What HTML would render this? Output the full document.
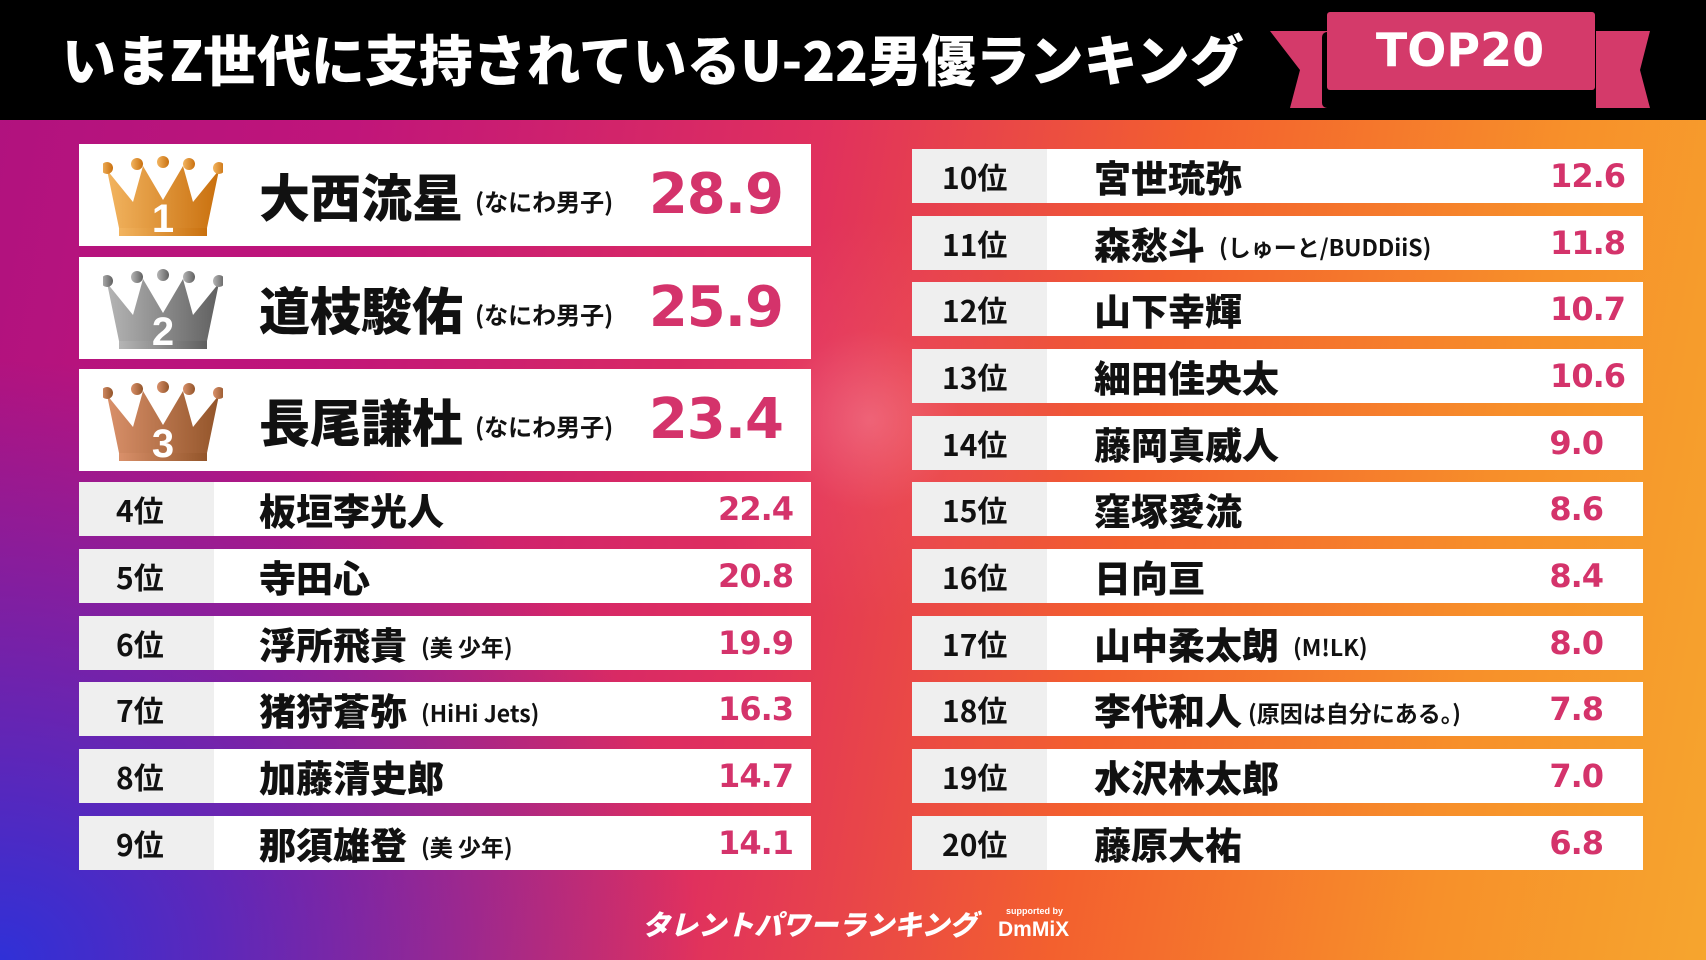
<!DOCTYPE html>
<html><head><meta charset="utf-8"><style>
*{margin:0;padding:0;box-sizing:border-box}
body{width:1706px;height:960px;overflow:hidden;position:relative;font-family:"Liberation Sans","Noto Sans CJK JP",sans-serif;
background:
radial-gradient(circle at 870px 420px,rgba(255,170,190,.35) 0,rgba(255,120,150,.1) 90px,rgba(0,0,0,0) 200px),
radial-gradient(ellipse 700px 600px at 0px 960px,rgba(40,50,220,.95),rgba(40,50,220,0)),
linear-gradient(100deg,#b0127f 0%,#c0157a 20%,#e0305e 45%,#f3602e 65%,#f7902a 85%,#f6a52e 100%);}
.hdr{position:absolute;left:0;top:0;width:1706px;height:120px;background:#000}
.title{position:absolute;left:62px;top:22px;color:#fff;font-weight:900;font-size:55px;line-height:70px;white-space:nowrap;font-family:"Noto Sans CJK JP",sans-serif;transform:scaleX(.98);transform-origin:left}
.row{position:absolute;background:#fff;height:54px}
.lab{position:absolute;left:0;top:0;height:54px;background:#efefef;font-weight:700;font-size:30px;line-height:54px;color:#111;font-family:"Noto Sans CJK JP",sans-serif}
.nm{position:absolute;top:0;line-height:54px;font-weight:900;font-size:37px;color:#111;white-space:nowrap;font-family:"Noto Sans CJK JP",sans-serif}
.nm small{font-size:23px;font-weight:700;margin-left:14px;vertical-align:3px}
.sc{position:absolute;right:18px;top:0;line-height:54px;font-weight:900;font-size:32px;color:#d4336b;font-family:"DejaVu Sans",sans-serif;letter-spacing:-1px}
.big{position:absolute;left:79px;width:732px;height:102px;background:#fff}
.big .nm{left:180px;line-height:102px;font-size:51px}
.big .nm small{font-size:24px;margin-left:12px;vertical-align:6px}
.big .sc{right:28px;line-height:102px;font-size:56px}
.crown{position:absolute;left:24px;top:12px}
</style></head><body>
<div class="hdr"></div>
<div class="title">いまZ世代に支持されているU-22男優ランキング</div>
<svg style="position:absolute;left:1260px;top:0" width="446" height="120">
<polygon points="10,31 68,31 68,108 30,108 40,70" fill="#d43a6a"/>
<polygon points="336,31 390,31 380,70 390,108 336,108" fill="#d43a6a"/>
<rect x="62" y="32" width="38" height="76" rx="5" fill="#000"/>
<rect x="300" y="80" width="36" height="28" rx="5" fill="#000"/>
<rect x="67" y="12" width="268" height="78" rx="3" fill="#d43a6a"/>
<text x="200" y="66" text-anchor="middle" fill="#fff" font-family="DejaVu Sans" font-weight="900" font-size="46">TOP20</text>
</svg>

<div class="big" style="top:144px">
<svg class="crown" width="120" height="82" viewBox="0 0 120 82"><defs><linearGradient id="g1"><stop offset="0" stop-color="#f2b460"/><stop offset="1" stop-color="#c9700e"/></linearGradient></defs>
<polygon points="4,14 30,46 40,10 60,44 80,10 90,46 116,14 104,72 16,72" fill="url(#g1)"/><rect x="16" y="72" width="88" height="8" fill="url(#g1)"/>
<circle cx="4" cy="12" r="6" fill="url(#g1)"/><circle cx="34" cy="8" r="6" fill="url(#g1)"/><circle cx="60" cy="6" r="6" fill="url(#g1)"/><circle cx="86" cy="8" r="6" fill="url(#g1)"/><circle cx="116" cy="12" r="6" fill="url(#g1)"/>
<text x="60" y="76" text-anchor="middle" fill="#fff" font-family="Liberation Sans" font-weight="700" font-size="40">1</text></svg>
<div class="nm">大西流星<small>(なにわ男子)</small></div><div class="sc">28.9</div></div>
<div class="big" style="top:257px">
<svg class="crown" width="120" height="82" viewBox="0 0 120 82"><defs><linearGradient id="g2"><stop offset="0" stop-color="#b5b5b5"/><stop offset="1" stop-color="#606060"/></linearGradient></defs>
<polygon points="4,14 30,46 40,10 60,44 80,10 90,46 116,14 104,72 16,72" fill="url(#g2)"/><rect x="16" y="72" width="88" height="8" fill="url(#g2)"/>
<circle cx="4" cy="12" r="6" fill="url(#g2)"/><circle cx="34" cy="8" r="6" fill="url(#g2)"/><circle cx="60" cy="6" r="6" fill="url(#g2)"/><circle cx="86" cy="8" r="6" fill="url(#g2)"/><circle cx="116" cy="12" r="6" fill="url(#g2)"/>
<text x="60" y="76" text-anchor="middle" fill="#fff" font-family="Liberation Sans" font-weight="700" font-size="40">2</text></svg>
<div class="nm">道枝駿佑<small>(なにわ男子)</small></div><div class="sc">25.9</div></div>
<div class="big" style="top:369px">
<svg class="crown" width="120" height="82" viewBox="0 0 120 82"><defs><linearGradient id="g3"><stop offset="0" stop-color="#d9906a"/><stop offset="1" stop-color="#93552a"/></linearGradient></defs>
<polygon points="4,14 30,46 40,10 60,44 80,10 90,46 116,14 104,72 16,72" fill="url(#g3)"/><rect x="16" y="72" width="88" height="8" fill="url(#g3)"/>
<circle cx="4" cy="12" r="6" fill="url(#g3)"/><circle cx="34" cy="8" r="6" fill="url(#g3)"/><circle cx="60" cy="6" r="6" fill="url(#g3)"/><circle cx="86" cy="8" r="6" fill="url(#g3)"/><circle cx="116" cy="12" r="6" fill="url(#g3)"/>
<text x="60" y="76" text-anchor="middle" fill="#fff" font-family="Liberation Sans" font-weight="700" font-size="40">3</text></svg>
<div class="nm">長尾謙杜<small>(なにわ男子)</small></div><div class="sc">23.4</div></div>

<div class="row" style="left:79px;top:482px;width:732px"><div class="lab" style="width:135px;padding-left:37px">4位</div><div class="nm" style="left:180px">板垣李光人</div><div class="sc">22.4</div></div>
<div class="row" style="left:79px;top:549px;width:732px"><div class="lab" style="width:135px;padding-left:37px">5位</div><div class="nm" style="left:180px">寺田心</div><div class="sc">20.8</div></div>
<div class="row" style="left:79px;top:616px;width:732px"><div class="lab" style="width:135px;padding-left:37px">6位</div><div class="nm" style="left:180px">浮所飛貴<small>(美 少年)</small></div><div class="sc">19.9</div></div>
<div class="row" style="left:79px;top:682px;width:732px"><div class="lab" style="width:135px;padding-left:37px">7位</div><div class="nm" style="left:180px">猪狩蒼弥<small>(HiHi Jets)</small></div><div class="sc">16.3</div></div>
<div class="row" style="left:79px;top:749px;width:732px"><div class="lab" style="width:135px;padding-left:37px">8位</div><div class="nm" style="left:180px">加藤清史郎</div><div class="sc">14.7</div></div>
<div class="row" style="left:79px;top:816px;width:732px"><div class="lab" style="width:135px;padding-left:37px">9位</div><div class="nm" style="left:180px">那須雄登<small>(美 少年)</small></div><div class="sc">14.1</div></div>

<div class="row" style="left:912px;top:149px;width:731px"><div class="lab" style="width:135px;padding-left:30px">10位</div><div class="nm" style="left:182px">宮世琉弥</div><div class="sc">12.6</div></div>
<div class="row" style="left:912px;top:216px;width:731px"><div class="lab" style="width:135px;padding-left:30px">11位</div><div class="nm" style="left:182px">森愁斗<small>(しゅーと/BUDDiiS)</small></div><div class="sc">11.8</div></div>
<div class="row" style="left:912px;top:282px;width:731px"><div class="lab" style="width:135px;padding-left:30px">12位</div><div class="nm" style="left:182px">山下幸輝</div><div class="sc">10.7</div></div>
<div class="row" style="left:912px;top:349px;width:731px"><div class="lab" style="width:135px;padding-left:30px">13位</div><div class="nm" style="left:182px">細田佳央太</div><div class="sc">10.6</div></div>
<div class="row" style="left:912px;top:416px;width:731px"><div class="lab" style="width:135px;padding-left:30px">14位</div><div class="nm" style="left:182px">藤岡真威人</div><div class="sc" style="right:40px">9.0</div></div>
<div class="row" style="left:912px;top:482px;width:731px"><div class="lab" style="width:135px;padding-left:30px">15位</div><div class="nm" style="left:182px">窪塚愛流</div><div class="sc" style="right:40px">8.6</div></div>
<div class="row" style="left:912px;top:549px;width:731px"><div class="lab" style="width:135px;padding-left:30px">16位</div><div class="nm" style="left:182px">日向亘</div><div class="sc" style="right:40px">8.4</div></div>
<div class="row" style="left:912px;top:616px;width:731px"><div class="lab" style="width:135px;padding-left:30px">17位</div><div class="nm" style="left:182px">山中柔太朗<small>(M!LK)</small></div><div class="sc" style="right:40px">8.0</div></div>
<div class="row" style="left:912px;top:682px;width:731px"><div class="lab" style="width:135px;padding-left:30px">18位</div><div class="nm" style="left:182px">李代和人<small style="margin-left:6px">(原因は自分にある。)</small></div><div class="sc" style="right:40px">7.8</div></div>
<div class="row" style="left:912px;top:749px;width:731px"><div class="lab" style="width:135px;padding-left:30px">19位</div><div class="nm" style="left:182px">水沢林太郎</div><div class="sc" style="right:40px">7.0</div></div>
<div class="row" style="left:912px;top:816px;width:731px"><div class="lab" style="width:135px;padding-left:30px">20位</div><div class="nm" style="left:182px">藤原大祐</div><div class="sc" style="right:40px">6.8</div></div>

<div style="position:absolute;left:642px;top:904px;color:#fff;font-weight:900;font-size:28px;font-family:'Noto Sans CJK JP',sans-serif;white-space:nowrap;font-style:italic">タレントパワーランキング</div>
<div style="position:absolute;left:1006px;top:906px;color:#fff;font-size:9px;font-weight:700">supported by</div>
<div style="position:absolute;left:998px;top:918px;color:#fff;font-size:21px;font-weight:700">DmMiX</div>
</body></html>
